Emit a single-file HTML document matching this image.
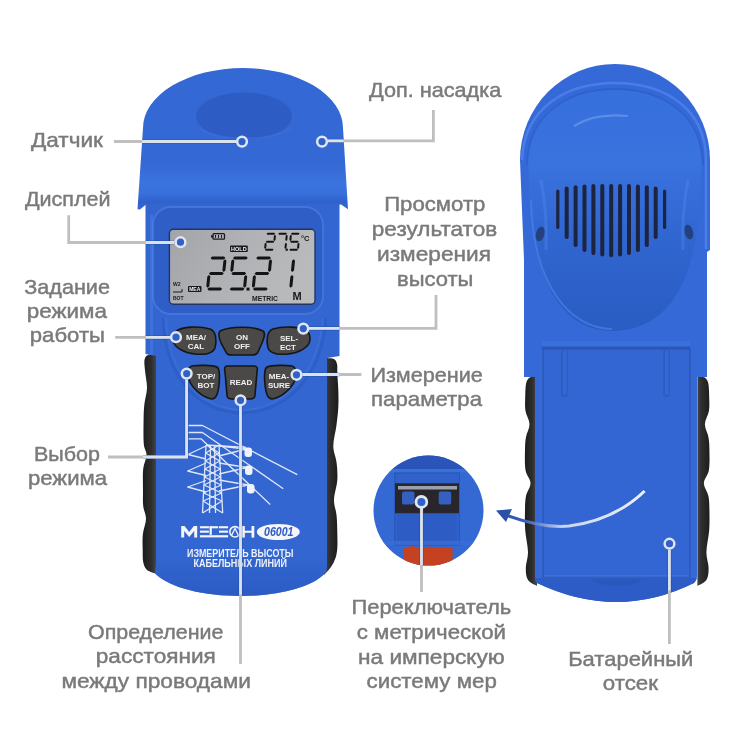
<!DOCTYPE html>
<html><head><meta charset="utf-8">
<style>
html,body{margin:0;padding:0;background:#fff;width:750px;height:750px;overflow:hidden}
svg{display:block;will-change:transform}
.t{font-family:"Liberation Sans",sans-serif;font-weight:normal;font-size:20.3px;fill:#7a7a7a;stroke:#7a7a7a;stroke-width:0.45px}
.ln{stroke:#bfbfbf;stroke-width:2.8;fill:none}
.mk{fill:#3060c8;stroke:#e0e6f0;stroke-width:2.5}
.lcdt{font-family:"Liberation Sans",sans-serif;font-weight:bold;fill:#1a1a1a}
.bt{font-family:"Liberation Sans",sans-serif;font-weight:bold;fill:#f2f2f2;font-size:8px;text-anchor:middle}
</style></head>
<body>
<svg width="750" height="750" viewBox="0 0 750 750">
<defs>
  <linearGradient id="lcdg" x1="0" y1="0" x2="1" y2="0.3">
    <stop offset="0" stop-color="#a2a4a9"/><stop offset="0.5" stop-color="#b0b1b4"/><stop offset="1" stop-color="#b9babc"/>
  </linearGradient>
  <linearGradient id="arrg" x1="496" y1="0" x2="645" y2="0" gradientUnits="userSpaceOnUse">
    <stop offset="0" stop-color="#2a50a8"/><stop offset="0.2" stop-color="#3a60b8"/><stop offset="0.45" stop-color="#c8d4ee"/><stop offset="1" stop-color="#eef2fa"/>
  </linearGradient>
  <linearGradient id="bowlg" x1="0" y1="90" x2="0" y2="334" gradientUnits="userSpaceOnUse">
    <stop offset="0" stop-color="#3670dc"/><stop offset="0.3" stop-color="#3a72de"/><stop offset="0.6" stop-color="#3066d0"/><stop offset="1" stop-color="#2a5cc2"/>
  </linearGradient>
  <linearGradient id="headg" x1="0" y1="68" x2="0" y2="210" gradientUnits="userSpaceOnUse">
    <stop offset="0" stop-color="#3468d4"/><stop offset="0.66" stop-color="#3468d4"/><stop offset="0.8" stop-color="#3a72de"/><stop offset="0.88" stop-color="#3870dc"/><stop offset="0.94" stop-color="#2f62cc"/><stop offset="1" stop-color="#3468d4"/>
  </linearGradient>
  <linearGradient id="gripL" x1="143" y1="0" x2="157" y2="0" gradientUnits="userSpaceOnUse"><stop offset="0" stop-color="#1c1c1c"/><stop offset="0.6" stop-color="#2e2e2e"/><stop offset="1" stop-color="#4a4a4a"/></linearGradient>
  <linearGradient id="gripR" x1="338" y1="0" x2="324" y2="0" gradientUnits="userSpaceOnUse"><stop offset="0" stop-color="#1c1c1c"/><stop offset="0.6" stop-color="#2e2e2e"/><stop offset="1" stop-color="#4a4a4a"/></linearGradient>
  <linearGradient id="gripRL" x1="525" y1="0" x2="537" y2="0" gradientUnits="userSpaceOnUse"><stop offset="0" stop-color="#1c1c1c"/><stop offset="0.6" stop-color="#2e2e2e"/><stop offset="1" stop-color="#4a4a4a"/></linearGradient>
  <linearGradient id="gripRR" x1="710" y1="0" x2="696" y2="0" gradientUnits="userSpaceOnUse"><stop offset="0" stop-color="#1c1c1c"/><stop offset="0.6" stop-color="#2e2e2e"/><stop offset="1" stop-color="#4a4a4a"/></linearGradient>
  <clipPath id="devclip">
    <path d="M137.5,209.3 L143,128 A100,60 0 0 1 343,128 L348,209.3 L341,204.5 L146,204.5 L140,209.5 Z"/>
    <path d="M145.5,200 L339.5,200 L339.5,356 L339,575 C296,601.6 185,601.6 143,573.6 L143,356 L145.5,354 Z"/>
    <circle cx="428.5" cy="510.6" r="55"/>
    <path d="M520,160 A95,96 0 0 1 710,160 L710,250 L707,252 L707,377 L708,575 Q617,621 525,583 L524,260 Z"/>
  </clipPath>
  <linearGradient id="botg" x1="0" y1="556" x2="0" y2="596" gradientUnits="userSpaceOnUse"><stop offset="0" stop-color="#2a58c0" stop-opacity="0"/><stop offset="1" stop-color="#2a58c0" stop-opacity="0.8"/></linearGradient>
  <clipPath id="insetclip"><circle cx="428.5" cy="510.6" r="55"/></clipPath>
</defs>
<rect width="750" height="750" fill="#fff"/>

<!-- ============ LEFT DEVICE ============ -->
<g id="leftdev">
  <!-- grips -->
  <path d="M157.0,354.0 C155.5,354.2 150.1,354.0 148.0,355.0 C145.9,356.0 145.0,357.2 144.5,360.0 C144.0,362.8 144.8,367.3 145.2,372.0 C145.6,376.7 147.1,382.7 147.0,388.0 C146.9,393.3 145.0,398.7 144.4,404.0 C143.8,409.3 143.7,413.3 143.6,420.0 C143.5,426.7 143.3,438.2 143.8,444.0 C144.3,449.8 146.6,450.8 146.5,455.0 C146.4,459.2 143.8,463.2 143.2,469.0 C142.6,474.8 143.0,483.8 143.0,490.0 C143.0,496.2 142.7,501.2 143.2,506.0 C143.7,510.8 146.1,514.3 146.0,519.0 C145.9,523.7 143.5,528.8 142.9,534.0 C142.3,539.2 142.6,545.3 142.7,550.0 C142.8,554.7 142.5,558.7 143.2,562.0 C143.9,565.3 144.7,568.0 147.0,570.0 C149.3,572.0 155.3,573.3 157.0,574.0 L157.0,574.0 L157.0,354.0 Z" fill="url(#gripL)"/>
  <path d="M326.0,358.0 C327.3,358.2 332.2,358.0 334.0,359.0 C335.8,360.0 336.4,361.7 337.0,364.0 C337.6,366.3 337.1,368.7 337.3,373.0 C337.5,377.3 338.1,384.3 338.3,390.0 C338.5,395.7 338.6,401.2 338.3,407.0 C338.0,412.8 337.3,418.5 336.5,425.0 C335.7,431.5 333.3,439.8 333.3,446.0 C333.3,452.2 335.8,456.3 336.5,462.0 C337.2,467.7 337.7,473.7 337.3,480.0 C336.9,486.3 334.1,494.2 334.0,500.0 C333.9,505.8 335.9,509.5 336.5,515.0 C337.1,520.5 337.2,527.5 337.3,533.0 C337.4,538.5 337.6,543.8 337.3,548.0 C337.0,552.2 336.6,554.8 335.5,558.0 C334.4,561.2 332.9,564.2 331.0,567.0 C329.1,569.8 325.2,573.7 324.0,575.0 L324.0,575.0 L324.0,358.0 Z" fill="url(#gripR)"/>
  <!-- body -->
  <path d="M145.5,200 L339.5,200 L339.5,356 L327,358 L327,565 C327,570 326,573 325,573.6 C296,603.5 185,603.5 155,573.6 C155,570 156,568 156,560 L156,356 L145.5,354 Z" fill="#3366d0"/>
  <path d="M156,556 L327,556 L327,565 C327,570 326,573 325,573.6 C296,603.5 185,603.5 155,573.6 C155,570 156,568 156,560 Z" fill="url(#botg)"/>
  <!-- bezel -->
  <rect x="153" y="207" width="170" height="107" rx="18" fill="#2e5ec6" stroke="#4a7ee2" stroke-width="1.8" stroke-opacity="0.75"/>
  <rect x="150" y="215" width="3" height="140" fill="#4a7ee2" opacity="0.5"/>
  <!-- head -->
  <path d="M137.5,209.3 L143,128 A100,60 0 0 1 343,128 L348,209.3 L341,204.5 L146,204.5 L140,209.5 Z" fill="url(#headg)"/>
  <ellipse cx="244" cy="116" rx="48" ry="23.5" fill="#2d5cc4"/>
  <path d="M200,128 C215,142 275,142 290,128" fill="none" stroke="#3a70d8" stroke-width="2" opacity="0.7"/>
  <!-- LCD -->
  <rect x="169.4" y="229.2" width="145.6" height="75" rx="4" fill="url(#lcdg)" stroke="#223566" stroke-width="1.4"/>
  <!-- LCD contents -->
  <rect x="213" y="233.6" width="11.5" height="5.6" rx="1" fill="none" stroke="#1a1a1a" stroke-width="1.3"/>
  <rect x="211" y="235.3" width="2" height="2.2" fill="#1a1a1a"/>
  <path d="M215.5,235 v2.8 M218.5,235 v2.8 M221.5,235 v2.8" stroke="#1a1a1a" stroke-width="1"/>
  <rect x="230" y="245.4" width="17.8" height="6.6" rx="1" fill="#1a1a1a"/>
  <text x="238.9" y="251" class="bt" style="font-size:5.5px">HOLD</text>
  <path fill="#141414" d="M212.2,256.4 L224.0,256.4 L225.4,257.9 L223.7,259.4 L211.9,259.4 L210.6,257.9ZM225.1,259.2 L226.4,260.8 L225.4,270.6 L223.7,272.1 L222.4,270.6 L223.4,260.8ZM210.6,272.0 L222.4,272.0 L223.8,273.5 L222.1,275.0 L210.3,275.0 L208.9,273.5ZM209.0,274.9 L210.3,276.4 L209.3,286.2 L207.6,287.7 L206.3,286.2 L207.3,276.4ZM209.0,287.6 L220.8,287.6 L222.1,289.1 L220.5,290.6 L208.7,290.6 L207.3,289.1ZM234.6,256.4 L246.4,256.4 L247.8,257.9 L246.1,259.4 L234.3,259.4 L233.0,257.9ZM233.0,259.2 L234.3,260.8 L233.3,270.6 L231.6,272.1 L230.3,270.6 L231.3,260.8ZM233.0,272.0 L244.8,272.0 L246.2,273.5 L244.5,275.0 L232.7,275.0 L231.3,273.5ZM245.9,274.9 L247.2,276.4 L246.2,286.2 L244.5,287.7 L243.2,286.2 L244.2,276.4ZM231.4,287.6 L243.2,287.6 L244.5,289.1 L242.9,290.6 L231.1,290.6 L229.7,289.1ZM257.8,256.4 L269.6,256.4 L271.0,257.9 L269.3,259.4 L257.5,259.4 L256.2,257.9ZM270.7,259.2 L272.0,260.8 L271.0,270.6 L269.3,272.1 L268.0,270.6 L269.0,260.8ZM256.2,272.0 L268.0,272.0 L269.3,273.5 L267.7,275.0 L255.9,275.0 L254.5,273.5ZM254.6,274.9 L255.9,276.4 L254.9,286.2 L253.2,287.7 L251.9,286.2 L252.9,276.4ZM254.6,287.6 L266.4,287.6 L267.7,289.1 L266.1,290.6 L254.3,290.6 L252.9,289.1ZM293.7,259.2 L295.0,260.8 L294.0,270.6 L292.3,272.1 L291.0,270.6 L292.0,260.8ZM292.1,274.9 L293.4,276.4 L292.4,286.2 L290.7,287.7 L289.4,286.2 L290.4,276.4Z"/>
  <path fill="#141414" d="M267.6,232.8 L274.3,232.8 L275.2,233.8 L274.1,234.8 L267.4,234.8 L266.5,233.8ZM275.0,234.7 L275.9,235.7 L275.5,239.9 L274.4,240.9 L273.5,239.9 L273.9,235.7ZM266.8,240.8 L273.5,240.8 L274.4,241.8 L273.3,242.8 L266.6,242.8 L265.7,241.8ZM265.7,242.7 L266.6,243.7 L266.2,247.9 L265.1,248.9 L264.2,247.9 L264.6,243.7ZM266.0,248.8 L272.7,248.8 L273.6,249.8 L272.5,250.8 L265.8,250.8 L264.9,249.8ZM279.4,232.8 L286.1,232.8 L287.0,233.8 L285.9,234.8 L279.2,234.8 L278.3,233.8ZM286.8,234.7 L287.7,235.7 L287.3,239.9 L286.2,240.9 L285.3,239.9 L285.7,235.7ZM286.0,242.7 L286.9,243.7 L286.5,247.9 L285.4,248.9 L284.5,247.9 L284.9,243.7ZM292.0,232.8 L298.7,232.8 L299.6,233.8 L298.5,234.8 L291.8,234.8 L290.9,233.8ZM290.9,234.7 L291.8,235.7 L291.4,239.9 L290.3,240.9 L289.4,239.9 L289.8,235.7ZM291.2,240.8 L297.9,240.8 L298.8,241.8 L297.7,242.8 L291.0,242.8 L290.1,241.8ZM298.6,242.7 L299.5,243.7 L299.1,247.9 L298.0,248.9 L297.1,247.9 L297.5,243.7ZM290.4,248.8 L297.1,248.8 L298.0,249.8 L296.9,250.8 L290.2,250.8 L289.3,249.8Z"/>
  <rect x="246.5" y="287.6" width="3" height="3" fill="#141414"/>
  <rect x="285.6" y="248.6" width="2.2" height="2.2" fill="#141414"/>
  <text x="301" y="240.5" class="lcdt" style="font-size:7.5px">°C</text>
  <text x="252" y="300.5" class="lcdt" style="font-size:6.8px" textLength="26" lengthAdjust="spacingAndGlyphs">METRIC</text>
  <text x="292.5" y="299.5" class="lcdt" style="font-size:11px">M</text>
  <rect x="188" y="286" width="13.5" height="6" rx="1" fill="#1a1a1a"/>
  <text x="194.7" y="291" class="bt" style="font-size:5px">MEA</text>
  <text x="173" y="286" class="lcdt" style="font-size:5px">W2</text>
  <path d="M173,292 L182,292 L182,289" stroke="#1a1a1a" stroke-width="1" fill="none"/>
  <text x="173" y="300" class="lcdt" style="font-size:5px">BOT</text>

  <path d="M163,318 C165,380 200,412 242,413 C284,412 322,380 326,318" fill="none" stroke="#2a56bc" stroke-width="2.5" opacity="0.55"/>
  <path d="M166,318 C168,376 202,409 242,410 C282,409 318,376 323,318" fill="none" stroke="#4a7ee0" stroke-width="1.2" opacity="0.5"/>
  <!-- buttons -->
  <g fill="#4a4947" stroke="#161616" stroke-width="1.6">
    <path d="M175,332 C182,326 200,326 210,329 C216,331 217,340 215,348 C213,354 205,355 195,354 C185,353 174,348 173,340 C173,336 173,334 175,332 Z"/>
    <path d="M220,331 C230,326 254,326 263,331 C266,333 264,338 262,343 L258,352 C257,355 254,355 250,355 L233,355 C229,355 227,355 226,352 L221,343 C219,338 218,333 220,331 Z"/>
    <path d="M308,332 C301,326 283,326 273,329 C267,331 266,340 268,348 C270,354 278,355 288,354 C298,353 309,348 310,340 C310,336 310,334 308,332 Z"/>
    <path d="M192,366 C198,365 212,365 217,367 C220,369 220,375 219,385 C218,395 216,399 212,399 C204,398 193,390 189,380 C187,374 188,367 192,366 Z"/>
    <path d="M227,366 L254,366 C257,366 258,368 257,372 L255,395 C255,398 253,399 250,399 L232,399 C229,399 227,398 227,395 L225,372 C224,368 225,366 227,366 Z"/>
    <path d="M292,366 C286,365 272,365 267,367 C264,369 264,375 265,385 C266,395 268,399 272,399 C280,398 291,390 295,380 C297,374 296,367 292,366 Z"/>
  </g>
  <text x="196" y="340" class="bt">MEA/</text><text x="196" y="349" class="bt">CAL</text>
  <text x="242" y="340" class="bt">ON</text><text x="242" y="349" class="bt">OFF</text>
  <text x="289" y="341" class="bt">SEL-</text><text x="288" y="350" class="bt">ECT</text>
  <text x="206" y="379" class="bt">TOP/</text><text x="206" y="388" class="bt">BOT</text>
  <text x="241" y="385" class="bt">READ</text>
  <text x="279" y="379" class="bt">MEA-</text><text x="279" y="388" class="bt">SURE</text>

  <!-- tower art -->
  <g stroke="#dfe7f6" stroke-width="1.3" fill="none" stroke-linejoin="round">
    <path d="M188.4,425.5 L202.4,425.5 L297.3,474.7 M188.4,432.5 L202.4,432.5 L283.3,488.7 M188.4,438.8 L201,438.8 L270.2,504.5"/>
    <path d="M206,445 L202.5,513 M219,445 L222.7,513 M210.5,445 L209.5,513 M214.5,445 L215.5,513"/>
    <path d="M206.0,445 L219.4,453 M219.0,445 L205.6,453 M205.6,453 L219.9,461 M219.4,453 L205.2,461 M205.2,461 L220.3,469 M219.9,461 L204.8,469 M204.8,469 L220.7,477 M220.3,469 L204.4,477 M204.4,477 L221.2,485 M220.7,477 L203.9,485 M203.9,485 L221.6,493 M221.2,485 L203.5,493 M203.5,493 L222.0,501 M221.6,493 L203.1,501 M203.1,501 L222.7,513 M222.0,501 L202.5,513"/>
    <path d="M206,445 L246,447.5"/>
    <path d="M206,446 L188,454.5 L206,459 M206,463 L187.7,471 L206,475.5 M206,480.5 L187.7,487 L206,492"/>
    <path d="M219,446 L246,449 L219,456 M219,463 L247,467.5 L219,474 M219,480 L248,485 L219,491"/>
  </g>
  <g fill="#eef2fa">
    <rect x="244.5" y="447.5" width="7.5" height="9.5" rx="3"/>
    <rect x="245" y="465.5" width="7.5" height="9.5" rx="3"/>
    <rect x="247" y="484" width="7.5" height="9.5" rx="3"/>
  </g>
  <!-- logo -->
  <g fill="#f4f6fb">
    <path d="M181.2,526 L184.6,526 L189.2,532 L193.8,526 L197.2,526 L197.2,537.6 L194.2,537.6 L194.2,531 L189.2,537 L184.2,531 L184.2,537.6 L181.2,537.6 Z"/>
    <rect x="199.9" y="526.2" width="9" height="2.1"/><rect x="199.9" y="530.6" width="9" height="2.1"/>
    <rect x="209.6" y="526.2" width="8.6" height="2.1"/><rect x="209.6" y="526.2" width="2.2" height="8.6"/>
    <rect x="219" y="526.2" width="9.1" height="2.1"/><rect x="219" y="530.6" width="9.1" height="2.1"/>
    <rect x="199.9" y="535.2" width="28.2" height="2.2"/>
    <rect x="242" y="526" width="2.8" height="11.6"/><rect x="251.5" y="526" width="2.8" height="11.6"/><rect x="242" y="530.7" width="12" height="2.1"/>
  </g>
  <circle cx="235" cy="531.8" r="5.2" fill="none" stroke="#f4f6fb" stroke-width="1.6"/>
  <path d="M231.5,535.5 L235,528.5 L238.5,535.5" fill="none" stroke="#f4f6fb" stroke-width="1.3"/>
  <ellipse cx="278.3" cy="532" rx="21.5" ry="8" fill="#f4f6fb"/>
  <text x="264" y="536.3" style="font-family:'Liberation Sans',sans-serif;font-weight:bold;font-style:italic;font-size:12px;fill:#2e5cc0" textLength="29.5" lengthAdjust="spacingAndGlyphs">06001</text>
  <text transform="translate(187,556.7) scale(1,1.15)" x="0" y="0" style="font-family:'Liberation Sans',sans-serif;font-weight:bold;font-size:9px;fill:#eef2fa" textLength="106.5" lengthAdjust="spacingAndGlyphs">ИЗМЕРИТЕЛЬ ВЫСОТЫ</text>
  <text transform="translate(193.5,566.6) scale(1,1.15)" x="0" y="0" style="font-family:'Liberation Sans',sans-serif;font-weight:bold;font-size:9px;fill:#eef2fa" textLength="93.5" lengthAdjust="spacingAndGlyphs">КАБЕЛЬНЫХ ЛИНИЙ</text>
</g>

<!-- ============ RIGHT DEVICE ============ -->
<g id="rightdev">
  <!-- grips -->
  <path d="M534.0,377.0 C533.2,377.2 530.3,376.8 529.0,378.0 C527.7,379.2 526.6,380.7 526.0,384.0 C525.4,387.3 525.3,393.5 525.2,398.0 C525.1,402.5 524.8,406.7 525.5,411.0 C526.2,415.3 529.4,419.7 529.5,424.0 C529.6,428.3 526.8,432.7 526.0,437.0 C525.2,441.3 525.1,444.5 525.0,450.0 C524.9,455.5 524.6,464.5 525.5,470.0 C526.4,475.5 530.4,478.7 530.5,483.0 C530.6,487.3 526.9,491.5 526.0,496.0 C525.1,500.5 525.1,504.3 525.0,510.0 C524.9,515.7 524.7,523.0 525.2,530.0 C525.7,537.0 527.9,545.7 528.0,552.0 C528.1,558.3 525.8,563.3 525.8,568.0 C525.8,572.7 526.1,577.0 528.0,580.0 C529.9,583.0 535.5,585.0 537.0,586.0 L537.0,586.0 L537.0,377.0 Z" fill="url(#gripRL)"/>
  <path d="M700.4,377.0 C701.2,377.2 704.1,376.8 705.4,378.0 C706.7,379.2 707.8,380.7 708.4,384.0 C709.0,387.3 709.1,393.5 709.2,398.0 C709.3,402.5 709.6,406.7 708.9,411.0 C708.2,415.3 705.0,419.7 704.9,424.0 C704.8,428.3 707.7,432.7 708.4,437.0 C709.2,441.3 709.3,444.5 709.4,450.0 C709.5,455.5 709.8,464.5 708.9,470.0 C708.0,475.5 704.0,478.7 703.9,483.0 C703.8,487.3 707.5,491.5 708.4,496.0 C709.3,500.5 709.3,504.3 709.4,510.0 C709.5,515.7 709.7,523.0 709.2,530.0 C708.7,537.0 706.5,545.7 706.4,552.0 C706.3,558.3 708.6,563.3 708.6,568.0 C708.6,572.7 708.3,577.0 706.4,580.0 C704.5,583.0 698.9,585.0 697.4,586.0 L697.4,586.0 L697.4,377.0 Z" fill="url(#gripRR)"/>
  <!-- body -->
  <path d="M520,160 A95,96 0 0 1 710,160 L710,250 L707,252 L707,377 L697,377 L697,575 C697,580 695,582 694,583 Q617,621 537,583 C536,582 535,580 535,575 L535,377 L524,377 L524,260 Z" fill="#3569d8"/>
  <!-- hood inner rim -->
  <path d="M528,165 C528,110 568,90 615,90 C662,90 702,110 702,165 L701,172 C701,292 662,331 612,331 C568,331 529,292 529,172 Z" fill="url(#bowlg)"/>
  <path d="M522,160 C524,108 566,83 615,83 C664,83 706,108 706,160 L706,249" fill="none" stroke="#4c82ea" stroke-width="2.5" opacity="0.85"/>
  <path d="M527,165 C528,113 569,89 615,89 C661,89 702,113 703,165" fill="none" stroke="#2a5cc6" stroke-width="2" opacity="0.6"/>
  <path d="M574,126 C588,117 608,114 628,116" fill="none" stroke="#7aa4f2" stroke-width="2.2" opacity="0.55"/>
  <path d="M531,200 C533,288 572,329 612,329" fill="none" stroke="#4a80e6" stroke-width="2" opacity="0.7"/>
  <!-- speaker slots -->
  <g stroke="#1c2440" stroke-linecap="round">
    <line x1="557.8" y1="191.0" x2="557.8" y2="227.4" stroke-width="3.2"/>
    <line x1="566.7" y1="188.4" x2="566.7" y2="237.0" stroke-width="4"/>
    <line x1="575.6" y1="187.2" x2="575.6" y2="245.0" stroke-width="4"/>
    <line x1="584.5" y1="186.6" x2="584.5" y2="250.0" stroke-width="4"/>
    <line x1="593.4" y1="186.0" x2="593.4" y2="253.0" stroke-width="4"/>
    <line x1="602.3" y1="186.0" x2="602.3" y2="254.6" stroke-width="4"/>
    <line x1="611.2" y1="186.0" x2="611.2" y2="255.2" stroke-width="4"/>
    <line x1="620.1" y1="186.0" x2="620.1" y2="254.6" stroke-width="4"/>
    <line x1="629.0" y1="186.0" x2="629.0" y2="253.0" stroke-width="4"/>
    <line x1="637.9" y1="186.6" x2="637.9" y2="250.0" stroke-width="4"/>
    <line x1="646.8" y1="187.2" x2="646.8" y2="245.0" stroke-width="4"/>
    <line x1="655.7" y1="188.4" x2="655.7" y2="237.0" stroke-width="4"/>
    <line x1="664.6" y1="191.0" x2="664.6" y2="227.4" stroke-width="3.2"/>
  </g>
  <ellipse cx="540.2" cy="234" rx="4.2" ry="7.5" fill="#24407e" transform="rotate(15 540.2 234)"/>
  <ellipse cx="688.8" cy="232" rx="4.2" ry="7.5" fill="#24407e" transform="rotate(-15 688.8 232)"/>
  <path d="M541,180 C545,200 547,225 546,250" fill="none" stroke="#5a8cee" stroke-width="3" opacity="0.35"/>
  <path d="M688,180 C684,200 682,225 683,250" fill="none" stroke="#5a8cee" stroke-width="3" opacity="0.35"/>
  <!-- battery cover -->
  <rect x="542" y="341" width="148" height="8" fill="#3a70dc"/>
  <path d="M542,348 L690,348" stroke="#2a56b8" stroke-width="3"/>
  <path d="M535,578 L697,578 L697,575 C697,580 695,582 694,583 Q617,621 537,583 C536,582 535,580 535,575 Z" fill="#2d5cc6"/>
  <path d="M543,349 L690,349 L690,577 L543,577 Z" fill="#3366d2" stroke="#2a55b4" stroke-width="1.2"/>
  <path d="M544,576 L689,576" stroke="#4a80e6" stroke-width="1.2" opacity="0.7"/>
  <rect x="561.2" y="349" width="6.6" height="48" rx="3.3" fill="#2c5cc4"/><rect x="563" y="350" width="3.6" height="45" rx="1.8" fill="#3a70dc" opacity="0.6"/>
  <rect x="663.2" y="349" width="6.6" height="48" rx="3.3" fill="#2c5cc4"/><rect x="665" y="350" width="3.6" height="45" rx="1.8" fill="#3a70dc" opacity="0.6"/>
  <path d="M592,579 C600,588 634,588 642,579 Z" fill="#2856b8" opacity="0.8"/>
</g>

<!-- ============ INSET CIRCLE ============ -->
<g clip-path="url(#insetclip)">
  <rect x="370" y="452" width="120" height="120" fill="#3468d2"/>
  <rect x="370" y="452" width="120" height="18" fill="#2b54b8"/>
  <rect x="370" y="469" width="120" height="3.5" fill="#3a70da"/>
  <rect x="394.8" y="473" width="64.6" height="72" fill="#3162cc" stroke="#2a56b8" stroke-width="1.2"/>
  <rect x="397" y="514" width="60" height="27" fill="#2d5cc4"/>
  <rect x="370" y="541" width="120" height="4" fill="#3a6ed8" opacity="0.7"/>
  <rect x="395" y="483.3" width="64" height="30" fill="#28262a"/>
  <rect x="398" y="486" width="59" height="3.5" fill="#9aa0b0"/>
  <rect x="402" y="491.5" width="12.5" height="13" rx="2" fill="#3560c0"/>
  <rect x="438.7" y="491.5" width="12.5" height="13" rx="2" fill="#3560c0"/>
  <path d="M404,548 L412,546 L420,548 L430,546.5 L440,548 L452.5,547 L453,572 L404,572 Z" fill="#c4421f"/>
</g>

<!-- ============ CALLOUT LINES ============ -->
<g class="ln">
  <path d="M114,141.5 L236,141.5"/>
  <path d="M328,140.8 L433.4,140.8 L433.4,110"/>
  <path d="M68.7,215.3 L68.7,242.5 L174,242.5"/>
  <path d="M115.2,337.4 L170,337.4"/>
  <path d="M309,328.4 L436,328.4 L436,295"/>
  <path d="M302.5,374.5 L361.4,374.5"/>
  <path d="M108,457 L186.6,457 L186.6,379.5"/>
  <path d="M240.5,406 L240.5,664"/>
  <path d="M421.5,508 L421.5,592"/>
  <path d="M669.4,549.7 L669.4,644"/>
</g>
<g class="ln" clip-path="url(#devclip)" style="stroke:#22449a;stroke-width:4.2;opacity:0.45">
  <path d="M114,141.5 L236,141.5"/>
  <path d="M328,140.8 L433.4,140.8 L433.4,110"/>
  <path d="M68.7,215.3 L68.7,242.5 L174,242.5"/>
  <path d="M115.2,337.4 L170,337.4"/>
  <path d="M309,328.4 L436,328.4 L436,295"/>
  <path d="M302.5,374.5 L361.4,374.5"/>
  <path d="M108,457 L186.6,457 L186.6,379.5"/>
  <path d="M240.5,406 L240.5,664"/>
  <path d="M421.5,508 L421.5,592"/>
  <path d="M669.4,549.7 L669.4,644"/>
</g>
<g class="ln" clip-path="url(#devclip)" style="stroke:#dae2ee">
  <path d="M114,141.5 L236,141.5"/>
  <path d="M328,140.8 L433.4,140.8 L433.4,110"/>
  <path d="M68.7,215.3 L68.7,242.5 L174,242.5"/>
  <path d="M115.2,337.4 L170,337.4"/>
  <path d="M309,328.4 L436,328.4 L436,295"/>
  <path d="M302.5,374.5 L361.4,374.5"/>
  <path d="M108,457 L186.6,457 L186.6,379.5"/>
  <path d="M240.5,406 L240.5,664"/>
  <path d="M421.5,508 L421.5,592"/>
  <path d="M669.4,549.7 L669.4,644"/>
</g>
<g class="mk">
  <circle cx="242" cy="141.6" r="4.85"/>
  <circle cx="322" cy="141.6" r="4.85"/>
  <circle cx="180.5" cy="242.2" r="4.85"/>
  <circle cx="176" cy="337.2" r="4.85"/>
  <circle cx="303.3" cy="328.6" r="4.85"/>
  <circle cx="186.7" cy="373.6" r="4.85"/>
  <circle cx="296.5" cy="374.8" r="4.85"/>
  <circle cx="240.5" cy="400.3" r="4.85"/>
  <circle cx="421.4" cy="501.9" r="5.4" stroke-width="2.8"/>
  <circle cx="669.5" cy="543.7" r="4.85"/>
</g>
<!-- arrow -->
<path d="M644.6,491 C625,510 600,522 569,526 C550,528 530,524 503,514" fill="none" stroke="url(#arrg)" stroke-width="3"/>
<path d="M496,510.5 L512,509 L506,522 Z" fill="#2a50a8"/>

<!-- ============ LABELS ============ -->
<g class="t">
  <text x="31.0" y="146.8" textLength="72.0" lengthAdjust="spacingAndGlyphs">Датчик</text>
  <text x="25.0" y="206" textLength="85.6" lengthAdjust="spacingAndGlyphs">Дисплей</text>
  <text x="24.2" y="293.6" textLength="85.8" lengthAdjust="spacingAndGlyphs">Задание</text>
  <text x="26.8" y="318" textLength="80.2" lengthAdjust="spacingAndGlyphs">режима</text>
  <text x="29.8" y="342.4" textLength="75.2" lengthAdjust="spacingAndGlyphs">работы</text>
  <text x="369.0" y="96.8" textLength="132.2" lengthAdjust="spacingAndGlyphs">Доп. насадка</text>
  <text x="384.2" y="211.2" textLength="101.2" lengthAdjust="spacingAndGlyphs">Просмотр</text>
  <text x="371.8" y="236" textLength="125.4" lengthAdjust="spacingAndGlyphs">результатов</text>
  <text x="377.0" y="260.8" textLength="114.0" lengthAdjust="spacingAndGlyphs">измерения</text>
  <text x="397.0" y="285.6" textLength="76.4" lengthAdjust="spacingAndGlyphs">высоты</text>
  <text x="370.4" y="381.6" textLength="112.4" lengthAdjust="spacingAndGlyphs">Измерение</text>
  <text x="371.0" y="406.2" textLength="111.0" lengthAdjust="spacingAndGlyphs">параметра</text>
  <text x="34.0" y="460.8" textLength="66.0" lengthAdjust="spacingAndGlyphs">Выбор</text>
  <text x="28.0" y="485.4" textLength="79.0" lengthAdjust="spacingAndGlyphs">режима</text>
  <text x="88.0" y="638.8" textLength="135.4" lengthAdjust="spacingAndGlyphs">Определение</text>
  <text x="95.8" y="663.4" textLength="120.0" lengthAdjust="spacingAndGlyphs">расстояния</text>
  <text x="61.4" y="688" textLength="189.6" lengthAdjust="spacingAndGlyphs">между проводами</text>
  <text x="351.4" y="613.6" textLength="159.8" lengthAdjust="spacingAndGlyphs">Переключатель</text>
  <text x="356.8" y="638.5" textLength="149.2" lengthAdjust="spacingAndGlyphs">с метрической</text>
  <text x="358.0" y="663.5" textLength="146.8" lengthAdjust="spacingAndGlyphs">на имперскую</text>
  <text x="366.6" y="688.4" textLength="130.2" lengthAdjust="spacingAndGlyphs">систему мер</text>
  <text x="568.2" y="665.6" textLength="125.2" lengthAdjust="spacingAndGlyphs">Батарейный</text>
  <text x="602.8" y="690.4" textLength="55.2" lengthAdjust="spacingAndGlyphs">отсек</text>
</g>
</svg>
</body></html>
